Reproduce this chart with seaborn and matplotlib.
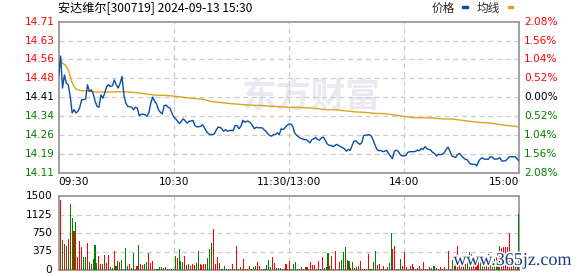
import numpy as np
import pandas as pd
import matplotlib
matplotlib.use("Agg")
import matplotlib.pyplot as plt
import seaborn as sns
from matplotlib.patches import Rectangle
from matplotlib import patheffects as pe

sns.set_style("white")
plt.rcParams["font.family"] = ["DejaVu Sans", "Noto Sans CJK SC"]

title = "安达维尔[300719] 2024-09-13 15:30"
legend_labels = ["价格", "均线"]
pre_close = 14.41
price_tick_labels = ["14.11", "14.19", "14.26", "14.34", "14.41", "14.48", "14.56", "14.63", "14.71"]
pct_labels = ["2.08%", "1.56%", "1.04%", "0.52%", "0.00%", "0.52%", "1.04%", "1.56%", "2.08%"]
time_labels = ["09:30", "10:30", "11:30/13:00", "14:00", "15:00"]
time_positions = [0, 60, 120, 180, 240]
vol_ticks = [0, 375, 750, 1125, 1500]

price = [
    14.490, 14.573, 14.446, 14.498, 14.465, 14.459, 14.413, 14.347, 14.360, 14.347,
    14.353, 14.370, 14.400, 14.400, 14.402, 14.459, 14.432, 14.439, 14.423, 14.393,
    14.373, 14.370, 14.419, 14.406, 14.426, 14.452, 14.459, 14.452, 14.455, 14.478,
    14.459, 14.446, 14.465, 14.492, 14.419, 14.386, 14.373, 14.372, 14.370, 14.360,
    14.370, 14.366, 14.336, 14.342, 14.342, 14.340, 14.334, 14.347, 14.386, 14.410,
    14.393, 14.384, 14.360, 14.350, 14.343, 14.376, 14.378, 14.370, 14.366, 14.347,
    14.331,
    14.324, 14.314, 14.305, 14.314, 14.324, 14.315, 14.307, 14.314, 14.315, 14.317,
    14.297, 14.292, 14.292, 14.294, 14.300, 14.288, 14.274, 14.265, 14.261, 14.261,
    14.263, 14.277, 14.290, 14.290, 14.285, 14.274, 14.281, 14.274, 14.277, 14.278,
    14.277, 14.297, 14.297, 14.284, 14.294, 14.318, 14.310, 14.314, 14.314, 14.307,
    14.297, 14.284, 14.290, 14.288, 14.288, 14.288, 14.281, 14.274, 14.265, 14.257,
    14.255, 14.261, 14.261, 14.268, 14.261, 14.284, 14.281, 14.288, 14.297, 14.303,
    14.303, 14.294, 14.268, 14.259, 14.252, 14.247, 14.244, 14.241, 14.241, 14.235,
    14.228, 14.241, 14.244, 14.250, 14.241, 14.239, 14.248, 14.251, 14.238, 14.224,
    14.218, 14.218, 14.213, 14.218, 14.222, 14.217, 14.213, 14.209, 14.205, 14.195,
    14.202, 14.198, 14.218, 14.235, 14.236, 14.228, 14.222, 14.228, 14.257, 14.259,
    14.259, 14.261, 14.255, 14.238, 14.218, 14.201, 14.197, 14.198, 14.193, 14.195,
    14.198, 14.186, 14.176, 14.165, 14.195, 14.199, 14.195, 14.182, 14.177, 14.176,
    14.178, 14.190, 14.193, 14.193, 14.193, 14.194, 14.199, 14.197, 14.205, 14.202,
    14.213, 14.205, 14.202, 14.199, 14.190, 14.185, 14.176, 14.182, 14.182, 14.182,
    14.189, 14.202, 14.211, 14.195, 14.176, 14.173, 14.170, 14.182, 14.186, 14.176,
    14.169, 14.163, 14.161, 14.149, 14.143, 14.143, 14.143, 14.136, 14.156, 14.165,
    14.169, 14.163, 14.163, 14.163, 14.173, 14.172, 14.164, 14.163, 14.165, 14.169,
    14.156, 14.156, 14.157, 14.165, 14.173, 14.173, 14.173, 14.173, 14.165, 14.156,
]

avg_minute = [0, 1, 2, 3, 4, 5, 6, 7, 8, 9, 10, 12, 15,
              20, 25, 30, 35, 40, 45, 50, 55, 60, 65, 70, 75, 80, 85, 90, 95,
              100, 105, 110, 115, 120, 125, 130, 135, 140, 145, 150, 155, 160,
              165, 170, 175, 180, 185, 190, 195, 200, 205, 210, 215, 220, 225,
              230, 235, 240]
avg_price = [14.560, 14.557, 14.544, 14.540, 14.531, 14.518, 14.492, 14.468, 14.452,
             14.443, 14.439, 14.435, 14.435,
             14.430, 14.430, 14.431, 14.431, 14.428, 14.423, 14.418, 14.417, 14.414,
             14.409, 14.405, 14.402, 14.392, 14.388, 14.384, 14.381, 14.378, 14.377,
             14.374, 14.372, 14.369, 14.369, 14.367, 14.364, 14.360, 14.359, 14.355,
             14.351, 14.349, 14.345, 14.344, 14.339, 14.334, 14.328, 14.328, 14.327,
             14.323, 14.323, 14.318, 14.313, 14.309, 14.307, 14.301, 14.296, 14.292]

volume = [
    1409, 618, 534, 493, 638, 1346, 1055, 784, 972, 264,
    597, 472, 264, 264, 555, 160, 118, 222, 514, 139,
    285, 118, 118, 305, 139, 305, 56, 35, 389, 76,
    180, 160, 201, 14, 451, 76, 118, 35, 347, 14,
    76, 514, 118, 97, 118, 160, 347, 139, 180, 14,
    14, 14, 56, 56, 35, 56, 14, 14, 14, 14,
    285, 243, 430, 180, 160, 285, 97, 118, 76, 118,
    97, 139, 389, 118, 97, 118, 118, 243, 430, 555,
    826, 118, 264, 139, 14, 14, 76, 14, 14, 14,
    118, 14, 493, 14, 56, 14, 222, 14, 14, 76,
    14, 56, 76, 160, 76, 14, 14, 14, 97, 201,
    56, 264, 139, 35, 35, 35, 14, 14, 118, 14,
    180,
    14, 118, 160, 14, 14, 56, 14, 56, 56, 14,
    160, 97, 97, 14, 180, 14, 264, 35, 56, 347,
    76, 285, 14, 389, 14, 160, 201, 368, 472, 201,
    180, 35, 160, 35, 56, 76, 180, 14, 14, 14,
    326, 14, 14, 160, 389, 97, 118, 14, 76, 14,
    56, 139, 743, 430, 493, 14, 14, 222, 76, 368,
    56, 14, 76, 118, 56, 14, 35, 76, 14, 160,
    14, 14, 56, 35, 76, 76, 35, 14, 56, 14,
    56, 14, 389, 14, 201, 76, 118, 493, 222, 76,
    243, 118, 243, 368, 326, 222, 139, 285, 222, 187,
    118, 160, 222, 326, 118, 187, 222, 326, 326, 493,
    451, 472, 472, 472, 743, 187, 118, 153, 118, 1145,
]
vol_dir = (
    "rgrgrggrgr" "rrggrgrggg" "rrgrrrggrg" "grggggrggr"
    "rgrrggrrrr" "gggggrgggg" "grgggrrgrr" "rggrrrrggg"
    "rrrrgggggg" "rgrggrrgrr" "gggrrggrgg" "grrggrggrg"
    "r"
    "ggggrgrgrg" "rrrgrgrggg" "rrgrgrgggr" "grgrrgrrgr"
    "rggggrrgrg" "rggrrgggrr" "rgrrgrgrrr" "grgrggrgrg"
    "rgrggrgrrg" "rrggrrrrrg" "rgrrgrgrgg" "rrrrrrgrrg"
)

# ---------------------------------------------------------------- layout
W, H = 578, 276
fig = plt.figure(figsize=(W / 100, H / 100), dpi=100)
fig.patch.set_facecolor("white")

def fx(px):
    return px / W

def fy(py):
    return 1 - py / H

left, right = 58.7, 519.0
ax = fig.add_axes([fx(left), fy(172.5), fx(right - left), fy(21.7) - fy(172.5)])
axv = fig.add_axes([fx(left), fy(270.0), fx(right - left), fy(196.0) - fy(270.0)])

spine_c = "#999999"
grid_c = "#cccccc"
red, green, dark = "#ff0000", "#008000", "#000000"
blue_c, gold_c = "#0a4fa3", "#e0a21a"

lo, hi = pre_close * (1 - 0.0208), pre_close * (1 + 0.0208)
ygrid = np.linspace(lo, hi, 9)

# watermark (behind data)
ax.text(0.55, 0.505, "东方财富", transform=ax.transAxes, ha="center", va="center",
        fontsize=25, fontweight="bold", color="#e9e9ef",
        family=["Noto Sans CJK SC", "DejaVu Sans"], zorder=0)

# price and average lines
minutes = np.arange(len(price))
df_p = pd.DataFrame({"minute": minutes, "price": price})
df_a = pd.DataFrame({"minute": avg_minute, "avg": avg_price})
sns.lineplot(data=df_a, x="minute", y="avg", ax=ax, color=gold_c, lw=1.0, zorder=3)
sns.lineplot(data=df_p, x="minute", y="price", ax=ax, color=blue_c, lw=1.0, zorder=4)

ax.set_xlim(0, 240)
ax.set_ylim(lo, hi)
ax.set_xlabel("")
ax.set_ylabel("")
ax.set_xticks([])
ax.set_yticks([])
for y in ygrid[1:-1]:
    ax.axhline(y, color=grid_c, lw=0.9, ls=(0, (4, 3)), zorder=1)
for x in time_positions[1:-1]:
    ax.axvline(x, color=grid_c, lw=0.9, ls=(0, (4, 3)), zorder=1)

tr = ax.get_yaxis_transform()
for i, (y, lab, pct) in enumerate(zip(ygrid, price_tick_labels, pct_labels)):
    c = red if i > 4 else (dark if i == 4 else green)
    ax.text(-0.008, y, lab, transform=tr, ha="right", va="center", fontsize=7.6, color=c)
    ax.text(1.011, y, pct, transform=tr, ha="left", va="center", fontsize=7.6, color=c)

trx = ax.get_xaxis_transform()
for pos, lab in zip(time_positions, time_labels):
    ha = "left" if pos == 0 else ("right" if pos == 240 else "center")
    ax.text(pos, -0.06, lab, transform=trx, ha=ha, va="center", fontsize=7.6, color=dark)

# volume bars: one category per minute, coloured by direction
n_vol = len(volume)
dir_list = list(vol_dir[:n_vol]) + ["g"] * max(0, n_vol - len(vol_dir))
bar_colors = [red if d == "r" else green for d in dir_list]
df_v = pd.DataFrame({"minute": np.arange(n_vol), "volume": volume})
sns.barplot(data=df_v, x="minute", y="volume", hue="minute", order=list(range(n_vol)),
            hue_order=list(range(n_vol)), palette=bar_colors, width=0.55,
            legend=False, errorbar=None, saturation=1, linewidth=0, ax=axv, zorder=3)
# first bar sits one slot right of the left spine, last bar on the right spine
axv.set_xlim(-1, n_vol - 1)
axv.set_ylim(0, 1500)
axv.set_xlabel("")
axv.set_ylabel("")
axv.set_xticks([])
axv.set_yticks([])
for y in vol_ticks[1:-1]:
    axv.axhline(y, color=grid_c, lw=0.9, ls=(0, (4, 3)), zorder=1)
for x in time_positions[1:-1]:
    axv.plot([x / 240, x / 240], [0, 1], transform=axv.transAxes,
             color=grid_c, lw=0.9, ls=(0, (4, 3)), zorder=1)
trv = axv.get_yaxis_transform()
for v in vol_ticks:
    axv.text(-0.014, v, str(v), transform=trv, ha="right", va="center", fontsize=7.6, color=dark)

for a in (ax, axv):
    for s in a.spines.values():
        s.set_visible(True)
        s.set_color(spine_c)
        s.set_linewidth(1.3)

# title and legend
cjk = ["Noto Sans CJK SC", "DejaVu Sans"]
fig.text(fx(58.5), fy(8.8), title, ha="left", va="center", fontsize=8.7, family=cjk, color="#000000")
fig.text(fx(431.5), fy(8.8), legend_labels[0], ha="left", va="center", fontsize=8.4, family=cjk)
fig.text(fx(477.0), fy(8.8), legend_labels[1], ha="left", va="center", fontsize=8.4, family=cjk)
fig.patches.append(Rectangle((fx(462.3), fy(7.9)), fx(5.4), fy(5.6) - fy(7.9),
                             transform=fig.transFigure, color=blue_c, zorder=5))
fig.patches.append(Rectangle((fx(508.3), fy(7.9)), fx(5.0), fy(5.6) - fy(7.9),
                             transform=fig.transFigure, color=gold_c, zorder=5))

# site stamp at bottom right
fig.text(fx(512.0), fy(260.5), "www.365jz.com", ha="center", va="center",
         fontsize=13, color="#1b3d7a", family=["Liberation Serif", "DejaVu Serif"],
         path_effects=[pe.withStroke(linewidth=2.5, foreground="white")], zorder=10)

fig.savefig("out.png", dpi=100, facecolor="white")
